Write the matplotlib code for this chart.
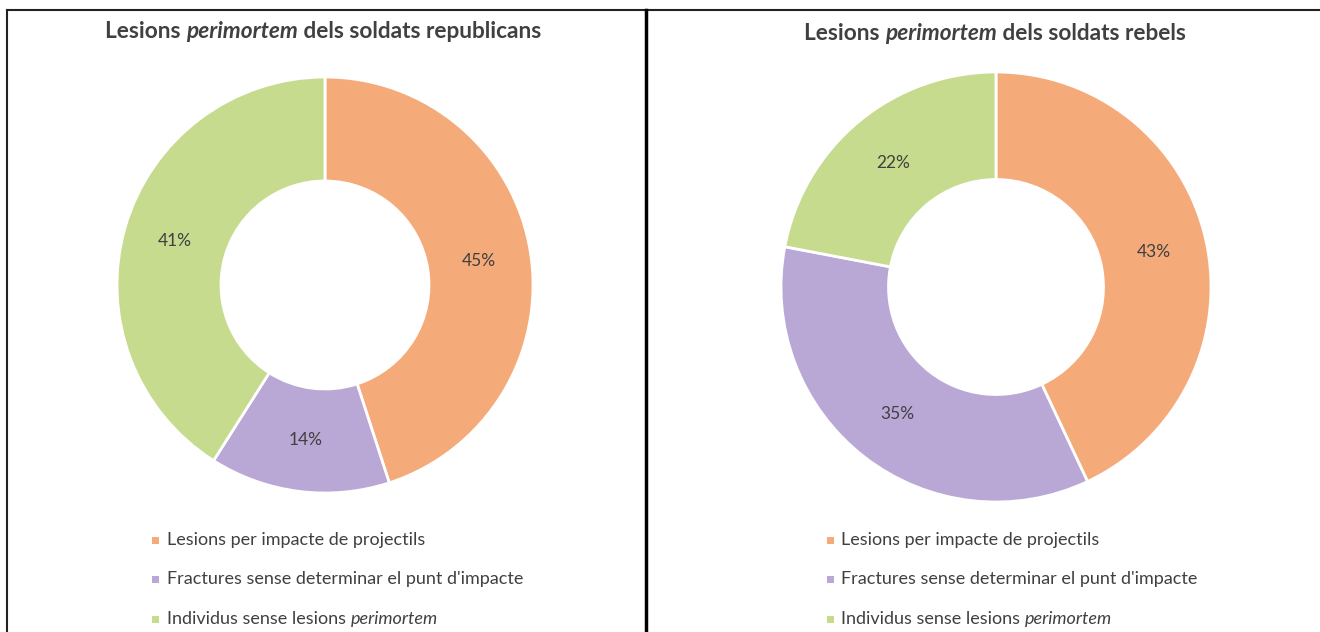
import matplotlib
matplotlib.use('AGG')
import matplotlib.pyplot as plt
from matplotlib.patches import Rectangle
from matplotlib.lines import Line2D

plt.rcParams['font.family'] = ['Lato', 'DejaVu Sans']

W, H = 1320, 632

categories = ['Lesions per impacte de projectils',
              "Fractures sense determinar el punt d'impacte",
              'Individus sense lesions ']
cat_italic = ['', '', 'perimortem']
republicans = [45, 14, 41]
rebels = [43, 35, 22]
titles = [('Lesions ', 'perimortem', ' dels soldats republicans'),
          ('Lesions ', 'perimortem', ' dels soldats rebels')]
colors = ['#F5AA7A', '#B9A8D6', '#C7DB8E']
text_col = '#404040'

fig = plt.figure(figsize=(W / 100, H / 100), dpi=100)
fig.patch.set_facecolor('white')
renderer = fig.canvas.get_renderer()


def fx(x):
    return x / W


def fy(y):
    return 1 - y / H


def mixed_text(x, y, parts, styles, ha='left', **kw):
    # draw pieces one after the other, each with its own font style
    objs = []
    widths = []
    for s, st in zip(parts, styles):
        t = fig.text(0, 0, s, fontstyle=st, va='center', ha='left', **kw)
        widths.append(t.get_window_extent(renderer).width)
        objs.append(t)
    total = sum(widths)
    x0 = x - total / 2 if ha == 'center' else x
    for t, w in zip(objs, widths):
        t.set_position((fx(x0), fy(y)))
        x0 += w


def donut(cx, cy, r, values):
    ax = fig.add_axes([fx(cx - r), fy(cy + r), 2 * r / W, 2 * r / H])
    ax.pie(values, colors=colors, startangle=90, counterclock=False,
           autopct='%d%%', pctdistance=0.75,
           wedgeprops=dict(width=0.5, edgecolor='white', linewidth=2),
           textprops=dict(color=text_col, fontsize=12.5))
    ax.set_xlim(-1, 1)
    ax.set_ylim(-1, 1)
    ax.set_aspect('equal')
    ax.axis('off')
    return ax


def legend(x_mark, x_text, rows):
    for i, y in enumerate(rows):
        fig.patches.append(Rectangle((fx(x_mark), fy(y + 3.5)), 7 / W, 7 / H,
                                     transform=fig.transFigure, color=colors[i], lw=0))
        parts = [categories[i]] + ([cat_italic[i]] if cat_italic[i] else [])
        styles = ['normal', 'italic'][:len(parts)]
        mixed_text(x_text, y, parts, styles, color=text_col, fontsize=13)


donut(325, 285, 208, republicans)
donut(996, 287, 215, rebels)

mixed_text(323, 31, titles[0], ['normal', 'italic', 'normal'], ha='center',
           fontsize=16.3, fontweight='bold', color=text_col)
mixed_text(995, 33, titles[1], ['normal', 'italic', 'normal'], ha='center',
           fontsize=16.3, fontweight='bold', color=text_col)

legend(152, 167, [540, 579, 619])
legend(827, 841, [540, 579, 619])

# frame lines
fig.add_artist(Line2D([fx(7), 1], [fy(10), fy(10)], color='#222222', lw=1.5))
fig.add_artist(Line2D([fx(7), fx(7)], [fy(10), 0], color='#222222', lw=1.5))
fig.add_artist(Line2D([fx(646), fx(646)], [fy(10), 0], color='black', lw=2.5))

fig.savefig('out.png', dpi=100)
